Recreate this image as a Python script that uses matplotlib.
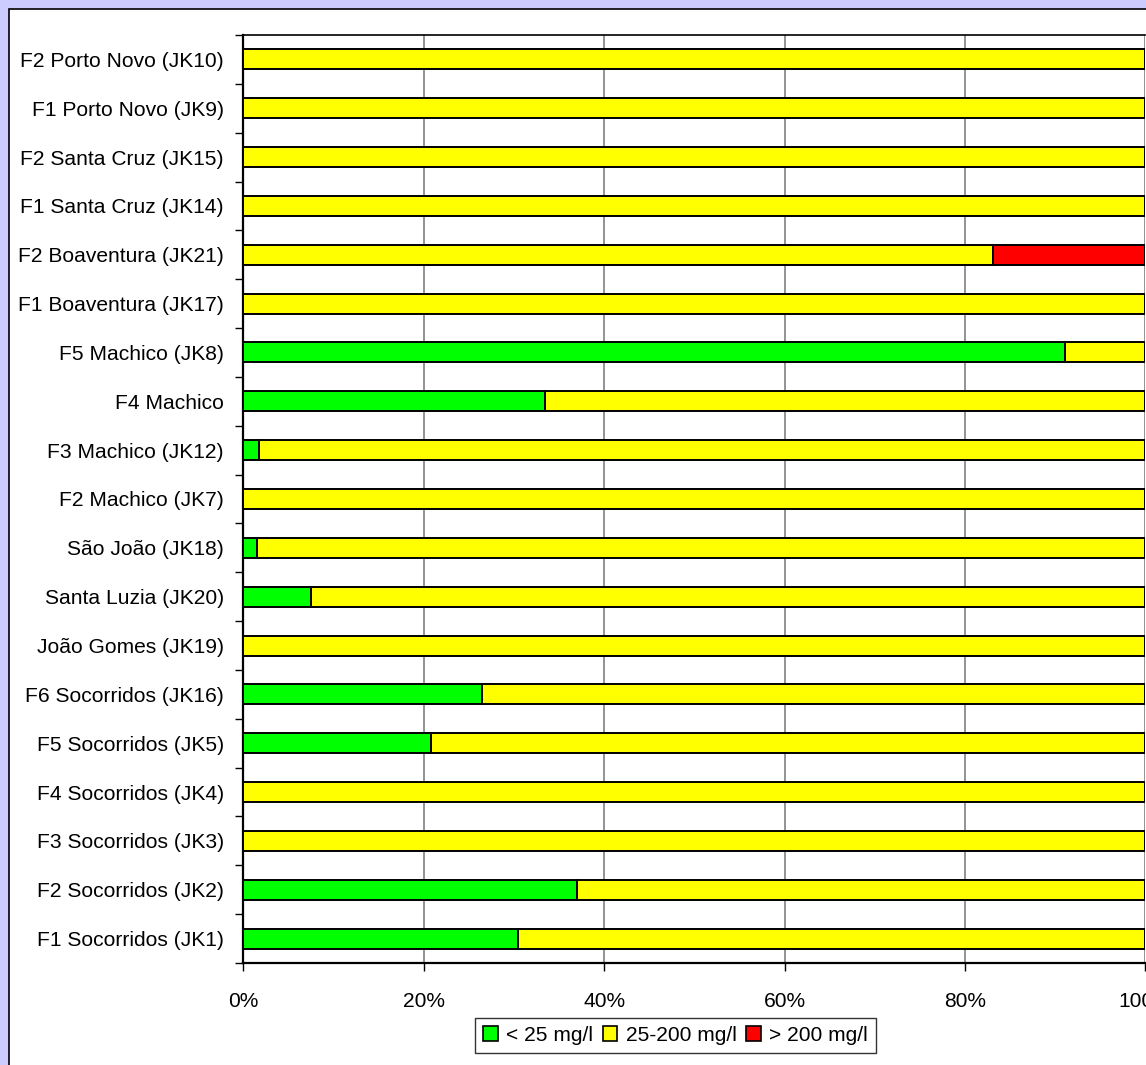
import matplotlib
matplotlib.use("Agg")
import matplotlib.pyplot as plt
from matplotlib.patches import Rectangle, Patch
import numpy as np

plt.rcParams['font.family'] = ['Liberation Sans', 'DejaVu Sans']

categories = [
    "F2 Porto Novo (JK10)", "F1 Porto Novo (JK9)", "F2 Santa Cruz (JK15)",
    "F1 Santa Cruz (JK14)", "F2 Boaventura (JK21)", "F1 Boaventura (JK17)",
    "F5 Machico (JK8)", "F4 Machico", "F3 Machico (JK12)", "F2 Machico (JK7)",
    "São João (JK18)", "Santa Luzia (JK20)", "João Gomes (JK19)",
    "F6 Socorridos (JK16)", "F5 Socorridos (JK5)", "F4 Socorridos (JK4)",
    "F3 Socorridos (JK3)", "F2 Socorridos (JK2)", "F1 Socorridos (JK1)",
]
low = [0, 0, 0, 0, 0, 0, 91.1, 33.5, 1.7, 0, 1.5, 7.5, 0, 26.5, 20.8, 0, 0, 37.0, 30.5]
mid = [100, 100, 100, 100, 83.1, 100, 8.9, 66.5, 98.3, 100, 98.5, 92.5, 100, 73.5, 79.2, 100, 100, 63.0, 69.5]
high = [0, 0, 0, 0, 16.9, 0, 0, 0, 0, 0, 0, 0, 0, 0, 0, 0, 0, 0, 0]
series_labels = ["< 25 mg/l", "25-200 mg/l", "> 200 mg/l"]
series_colors = ["#00FF00", "#FFFF00", "#FF0000"]
xtick_labels = ["0%", "20%", "40%", "60%", "80%", "100%"]

W, H = 1146, 1065
FS = 15.1
fig = plt.figure(figsize=(W / 100, H / 100), dpi=100, facecolor="#CCCCFF")

# white chart area
fig.patches.append(Rectangle((9 / W, -0.05), 1.1, 1 - 9 / H + 0.05, transform=fig.transFigure,
                             facecolor="white", edgecolor="black", linewidth=1.2, zorder=-10))

left, right = 243.3 / W, 1145.3 / W
top, bottom = 1 - 35 / H, 1 - 963 / H
ax = fig.add_axes([left, bottom, right - left, top - bottom])
ax.set_facecolor("white")

n = len(categories)
y = np.arange(n)[::-1]
frac = lambda v: np.array(v) / 100.0
lowf, midf, highf = frac(low), frac(mid), frac(high)

h = 0.41
ax.barh(y, lowf, height=h, color=series_colors[0], edgecolor="black", linewidth=1.4, zorder=3)
ax.barh(y, midf, left=lowf, height=h, color=series_colors[1], edgecolor="black", linewidth=1.4, zorder=3)
ax.barh(y, highf, left=lowf + midf, height=h, color=series_colors[2], edgecolor="black", linewidth=1.4, zorder=3)

ax.set_xlim(0, 1)
ax.set_ylim(-0.5, n - 0.5)

xt = np.linspace(0, 1, len(xtick_labels))
ax.set_xticks(xt)
ax.set_xticklabels(xtick_labels, fontsize=FS)
ax.tick_params(axis="x", direction="out", length=6, width=1, color="black", pad=15)
ax.xaxis.grid(True, color="#808080", linewidth=1.2, zorder=1)

ax.set_yticks(np.arange(n + 1) - 0.5)
ax.set_yticklabels([])
ax.set_yticks(y, minor=True)
ax.set_yticklabels(categories, minor=True, fontsize=FS)
ax.tick_params(axis="y", which="major", direction="out", length=6, width=1, color="black")
ax.tick_params(axis="y", which="minor", length=0, pad=14)

for s in ["left", "bottom"]:
    ax.spines[s].set_color("black")
    ax.spines[s].set_linewidth(1.6)
ax.spines["top"].set_color("black")
ax.spines["top"].set_linewidth(1.2)
ax.spines["right"].set_visible(False)
ax.set_axisbelow(True)

handles = [Patch(facecolor=c, edgecolor="black", linewidth=1.2) for c in series_colors]
leg = fig.legend(handles, series_labels, loc="center", bbox_to_anchor=(675.5 / W, 1 - 1035.5 / H),
                 ncol=3, fontsize=FS, frameon=True, fancybox=False, edgecolor="black",
                 handlelength=0.7, handleheight=0.7, handletextpad=0.4, columnspacing=0.45,
                 borderpad=0.4, borderaxespad=0)
leg.get_frame().set_linewidth(1.0)

fig.savefig("out.png", dpi=100, facecolor=fig.get_facecolor())
